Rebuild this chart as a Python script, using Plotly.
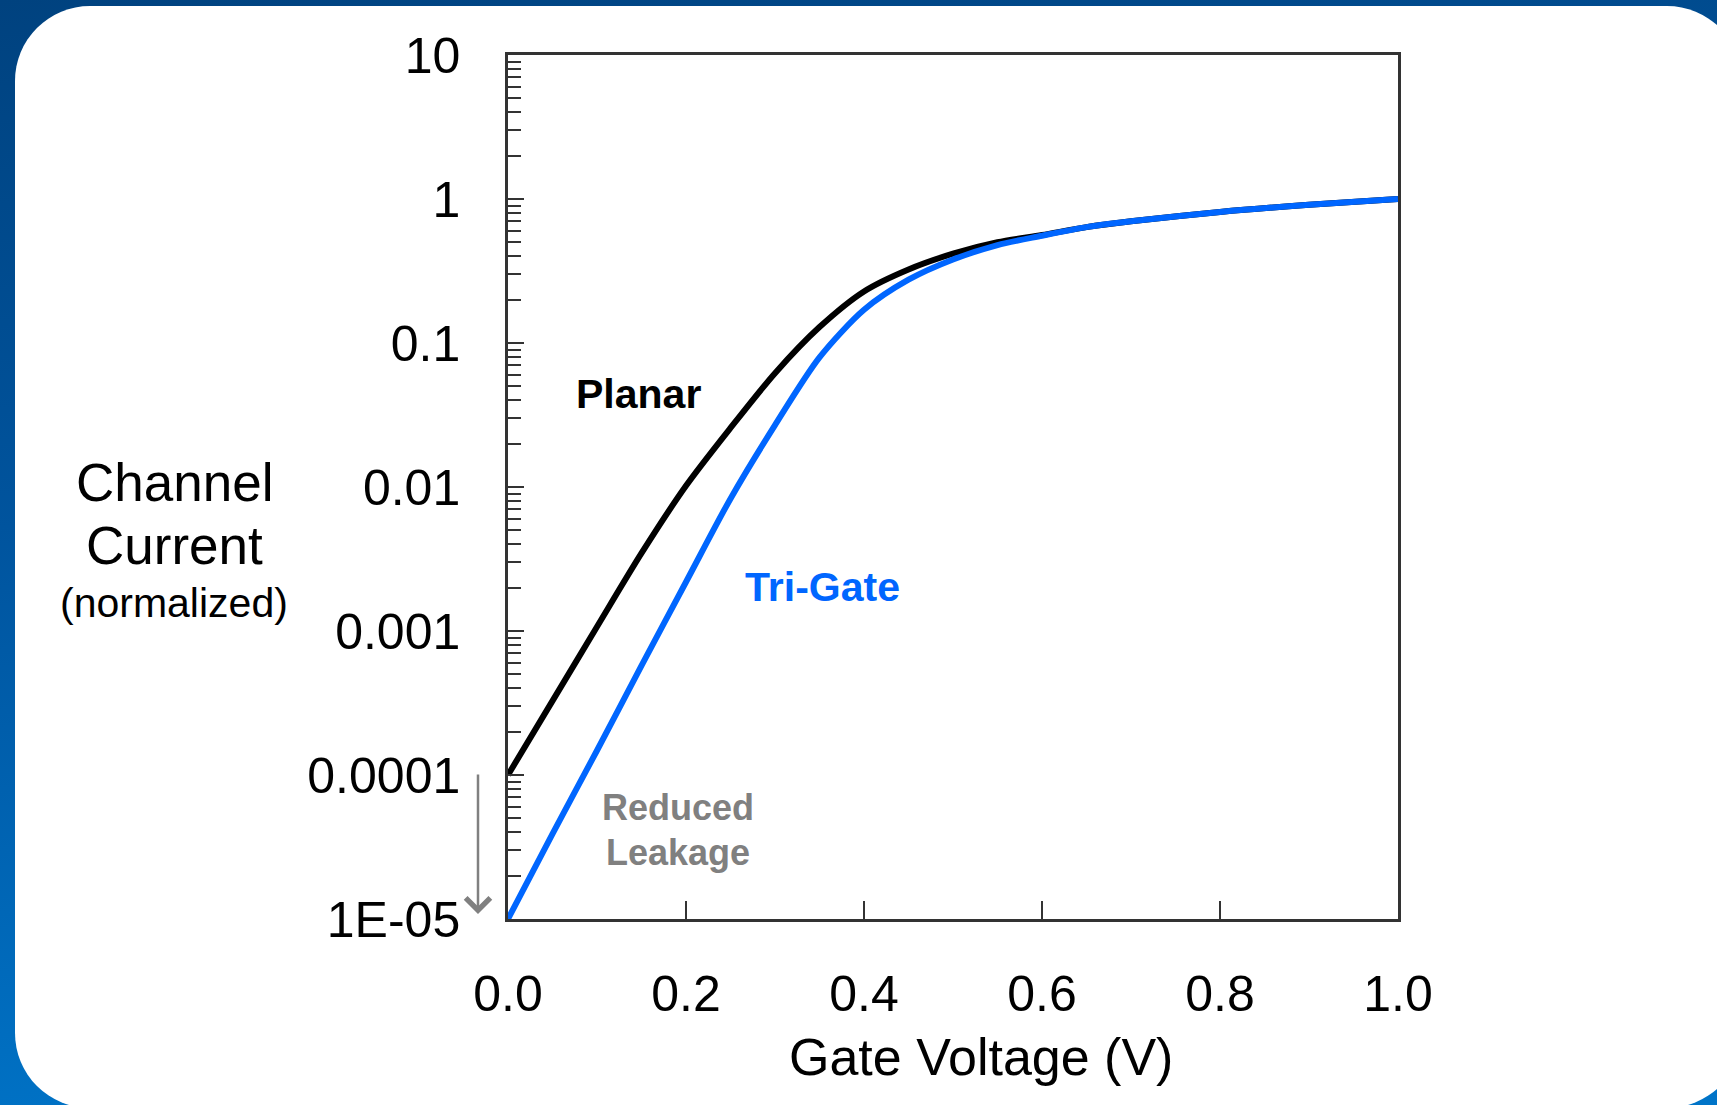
import base64
import plotly.graph_objects as go

# ---------------- data ----------------
gate_voltage = [0.00, 0.05, 0.10, 0.15, 0.20, 0.25, 0.30, 0.35, 0.40, 0.45,
                0.50, 0.55, 0.60, 0.65, 0.70, 0.80, 0.90, 1.00]
planar_current = [1.0e-4, 3.27e-4, 1.07e-3, 3.47e-3, 0.0102, 0.0257, 0.0617, 0.129,
                  0.228, 0.324, 0.417, 0.501, 0.562, 0.638, 0.70, 0.813, 0.912, 1.0]
trigate_current = [1.0e-5, 3.9e-5, 1.48e-4, 5.75e-4, 2.19e-3, 8.3e-3, 0.0269, 0.0794,
                   0.170, 0.275, 0.380, 0.479, 0.556, 0.638, 0.70, 0.813, 0.912, 1.0]

x_tick_values = [0.0, 0.2, 0.4, 0.6, 0.8, 1.0]
x_tick_labels = ["0.0", "0.2", "0.4", "0.6", "0.8", "1.0"]
y_tick_values = [1e-5, 1e-4, 1e-3, 1e-2, 1e-1, 1, 10]
y_tick_labels = ["1E-05", "0.0001", "0.001", "0.01", "0.1", "1", "10"]

# ---------------- geometry ----------------
W, H = 1717, 1105
L, R, T, B = 508, 1398, 55, 919
PW, PH = R - L, B - T


def px(xp):
    return (xp - L) / PW


def py(yp):
    return 1 - (yp - T) / PH


FONT = "Liberation Sans, Arial, Helvetica, sans-serif"

# background: blue gradient with white rounded panel (decoration)
svg = f'''<svg xmlns="http://www.w3.org/2000/svg" width="{W}" height="{H}" viewBox="0 0 {W} {H}">
<defs><linearGradient id="g" x1="0" y1="0" x2="0.25" y2="1">
<stop offset="0" stop-color="#00427f"/><stop offset="0.45" stop-color="#00549e"/>
<stop offset="1" stop-color="#0074c8"/></linearGradient></defs>
<rect x="0" y="0" width="{W}" height="{H}" fill="url(#g)"/>
<rect x="15" y="6" width="1727" height="1102" rx="75" ry="75" fill="#ffffff"/>
</svg>'''
src = "data:image/svg+xml;base64," + base64.b64encode(svg.encode()).decode()

fig = go.Figure()
fig.add_trace(go.Scatter(x=gate_voltage, y=planar_current, mode="lines", name="Planar",
                         line=dict(color="#000000", width=6, shape="spline", smoothing=0.8)))
fig.add_trace(go.Scatter(x=gate_voltage, y=trigate_current, mode="lines", name="Tri-Gate",
                         line=dict(color="#0066ff", width=6, shape="spline", smoothing=0.8)))

fig.add_layout_image(dict(source=src, xref="paper", yref="paper", x=px(0), y=py(0),
                          sizex=W / PW, sizey=H / PH, xanchor="left", yanchor="top",
                          sizing="stretch", layer="below"))

fig.update_layout(
    width=W, height=H,
    margin=dict(l=L, r=W - R, t=T, b=H - B, pad=0),
    paper_bgcolor="#ffffff",
    plot_bgcolor="rgba(0,0,0,0)",
    showlegend=False,
    font=dict(family=FONT, color="#000000"),
)

fig.update_xaxes(range=[0, 1], showgrid=False, zeroline=False,
                 showline=True, mirror=True, linecolor="#333333", linewidth=2.5,
                 ticks="inside", ticklen=18, tickwidth=2, tickcolor="#333333",
                 tickvals=x_tick_values, ticktext=x_tick_labels,
                 tickfont=dict(size=50, family=FONT, color="#000000"),
                 ticklabelstandoff=29)
fig.update_yaxes(type="log", range=[-5, 1], showgrid=False, zeroline=False,
                 showline=True, mirror=True, linecolor="#333333", linewidth=2.5,
                 ticks="inside", ticklen=16, tickwidth=2, tickcolor="#333333",
                 tickvals=y_tick_values, ticktext=y_tick_labels,
                 tickfont=dict(size=50, family=FONT, color="#000000"),
                 ticklabelstandoff=35,
                 minor=dict(ticks="inside", ticklen=13, tickwidth=2, tickcolor="#333333",
                            dtick="D1", showgrid=False))

ann = [
    dict(text="Channel", x=px(174), y=py(482), size=53, color="#000000"),
    dict(text="Current", x=px(174), y=py(545), size=53, color="#000000"),
    dict(text="(normalized)", x=px(174), y=py(603), size=41, color="#000000"),
    dict(text="Gate Voltage (V)", x=px(981), y=py(1057), size=52, color="#000000"),
    dict(text="<b>Planar</b>", x=px(638), y=py(394), size=41, color="#000000"),
    dict(text="<b>Tri-Gate</b>", x=px(822), y=py(587), size=41, color="#0066ff"),
    dict(text="<b>Reduced</b>", x=px(678), y=py(807), size=36, color="#808080"),
    dict(text="<b>Leakage</b>", x=px(678), y=py(852), size=36, color="#808080"),
]
for a in ann:
    fig.add_annotation(text=a["text"], x=a["x"], y=a["y"], xref="paper", yref="paper",
                       xanchor="center", yanchor="middle", showarrow=False,
                       font=dict(size=a["size"], color=a["color"], family=FONT))

# leakage arrow
fig.add_annotation(x=px(478), y=py(914), xref="paper", yref="paper", text="",
                   showarrow=True, ax=0, ay=-141, arrowhead=4, arrowsize=1.9,
                   arrowwidth=2.5, arrowcolor="#808080", standoff=0)

fig.write_html("out.html",
               config={"displayModeBar": False},
               post_script="document.body.style.margin='0';"
                           "document.body.style.overflow='hidden';")
